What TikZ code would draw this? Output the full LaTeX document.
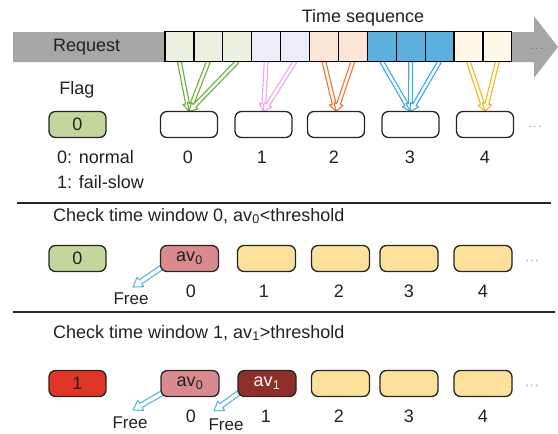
\documentclass[tikz,border=0pt]{standalone}
\usepackage{fontspec}
\setmainfont{Liberation Sans}
\usetikzlibrary{calc}
\definecolor{txt}{HTML}{222222}
\definecolor{grayarr}{HTML}{A6A6A6}
\definecolor{cg}{HTML}{EBF1DE}
\definecolor{cl}{HTML}{EEEDF7}
\definecolor{cp}{HTML}{FBE5D6}
\definecolor{cb}{HTML}{5BAFDD}
\definecolor{cy}{HTML}{FEF8E8}
\definecolor{ag}{HTML}{6AAE3A}
\definecolor{al}{HTML}{EBA6EC}
\definecolor{ao}{HTML}{EE7430}
\definecolor{ab}{HTML}{3FA9E0}
\definecolor{ay}{HTML}{F8B620}
\definecolor{afree}{HTML}{5BB5E5}
\definecolor{flaggreen}{HTML}{C3D69B}
\definecolor{flagred}{HTML}{E03524}
\definecolor{avpink}{HTML}{D98A8E}
\definecolor{avdark}{HTML}{8E2F2A}
\definecolor{peach}{HTML}{FCE09C}
\pgfdeclarelayer{back}
\pgfdeclarelayer{bg}
\pgfsetlayers{back,bg,main}
% hollow arrow: #1 start, #2 end, #3 colour, #4 shaft half width, #5 head half width, #6 head length
\newcommand\harrow[6]{%
  \coordinate (hS) at (#1);
  \coordinate (hE) at (#2);
  \coordinate (hH) at ($(hE)!#6!(hS)$);
  \draw[#3, line width=1.1pt, fill=white, line join=round]
    ($(hS)!#4!90:(hE)$) -- ($(hH)!#4!90:(hE)$) -- ($(hH)!#5!90:(hE)$) -- (hE)
    -- ($(hH)!#5!-90:(hE)$) -- ($(hH)!#4!-90:(hE)$) -- ($(hS)!#4!-90:(hE)$) -- cycle;
}
\tikzset{
  txtstyle/.style={text=txt, inner sep=0pt, font=\fontsize{18}{18}\selectfont},
  cell/.style={draw=black, line width=1.2pt, minimum width=28.9pt, minimum height=30pt, inner sep=0pt, outer sep=0pt},
  box/.style={draw=black!85, line width=1.3pt, rounded corners=6.5pt, minimum width=57pt, minimum height=26pt, inner sep=0pt, outer sep=0pt, text=txt, font=\fontsize{18}{18}\selectfont},
  dots/.style={text=black!70, inner sep=0pt, font=\fontsize{11}{11}\selectfont},
  sep/.style={line width=1.2pt, black!85},
}
\begin{document}
\begin{tikzpicture}[x=1pt, y=-1pt]
\begin{pgfonlayer}{back}
  \fill[white] (0,0) rectangle (558,434);
\end{pgfonlayer}
\useasboundingbox (0,0) rectangle (558,434);

% ---- top: request stream
\begin{pgfonlayer}{bg}
  \fill[grayarr] (13,32) -- (534,32) -- (534,16) -- (558,47) -- (534,78) -- (534,62) -- (13,62) -- cycle;
\end{pgfonlayer}
\node[txtstyle] (ts) at (363,18) {Time sequence};
\node[txtstyle, anchor=west] (req) at (53,47) {Request};
\node[dots] (d0) at (537,49) {$\cdots$};

\foreach \i/\col in {1/cg,2/cg,3/cg,4/cl,5/cl,6/cp,7/cp,8/cb,9/cb,10/cb,11/cy,12/cy}{
  \pgfmathsetmacro\cx{165+28.9*(\i-0.5)}
  \node[cell, fill=\col] (c\i) at (\cx,46.7) {};
}

% ---- row 1
\node[txtstyle] (flag) at (77,90) {Flag};
\node[box, fill=flaggreen] (f1) at (77.5,124.5) {0};
\foreach \n/\x in {0/189,1/263.5,2/336,3/410.5,4/485}{
  \node[box, fill=white] (w\n) at (\x,124.5) {};
}
\foreach \n/\x in {0/188,1/262,2/334,3/410,4/485}{
  \node[txtstyle] (l1\n) at (\x,157) {\n};
}
\node[dots] (d1) at (535,127) {$\cdots$};
\node[txtstyle, anchor=west] (leg0) at (57,157) {0: normal};
\node[txtstyle, anchor=west] (leg1) at (57,182) {1: fail-slow};

\begin{pgfonlayer}{bg}
  \harrow{c1.south}{w0.north}{ag}{1.9pt}{4.6pt}{8pt}
  \harrow{c2.south}{w0.north}{ag}{1.9pt}{4.6pt}{8pt}
  \harrow{c3.south}{w0.north}{ag}{1.9pt}{4.6pt}{8pt}
  \harrow{c4.south}{w1.north}{al}{1.9pt}{4.6pt}{8pt}
  \harrow{c5.south}{w1.north}{al}{1.9pt}{4.6pt}{8pt}
  \harrow{c6.south}{w2.north}{ao}{1.9pt}{4.6pt}{8pt}
  \harrow{c7.south}{w2.north}{ao}{1.9pt}{4.6pt}{8pt}
  \harrow{c8.south}{w3.north}{ab}{1.9pt}{4.6pt}{8pt}
  \harrow{c9.south}{w3.north}{ab}{1.9pt}{4.6pt}{8pt}
  \harrow{c10.south}{w3.north}{ab}{1.9pt}{4.6pt}{8pt}
  \harrow{c11.south}{w4.north}{ay}{1.9pt}{4.6pt}{8pt}
  \harrow{c12.south}{w4.north}{ay}{1.9pt}{4.6pt}{8pt}
\end{pgfonlayer}

\coordinate (s1a) at (17,203);
\coordinate (s1b) at (551,203);
\draw[sep] (s1a) -- (s1b);

% ---- row 2
\node[txtstyle, anchor=west] (t2) at (53,216) {Check time window 0, av\textsubscript{0}<threshold};
\node[box, fill=flaggreen] (f2) at (77.5,258.5) {0};
\node[box, fill=avpink, minimum width=58pt] (r2a0) at (189.5,258.5) {av\textsubscript{0}};
\foreach \n/\x in {1/266.5,2/340.5,3/409,4/483}{
  \node[box, fill=peach, minimum width=58pt] (r2b\n) at (\x,258.5) {};
}
\foreach \n/\x in {0/191,1/264,2/339,3/409,4/483}{
  \node[txtstyle] (l2\n) at (\x,291) {\n};
}
\node[dots] (d2) at (532,261) {$\cdots$};
\coordinate (fr1) at (133,287);
\begin{pgfonlayer}{bg}
  \harrow{$(r2a0.south west)+(4,-6)$}{fr1}{afree}{2.4pt}{5.8pt}{9pt}
\end{pgfonlayer}
\node[txtstyle, font=\fontsize{17}{17}\selectfont] (free1) at (131,299) {Free};

\coordinate (s2a) at (13,312);
\coordinate (s2b) at (555,312);
\draw[sep] (s2a) -- (s2b);

% ---- row 3
\node[txtstyle, anchor=west] (t3) at (53,333) {Check time window 1, av\textsubscript{1}>threshold};
\node[box, fill=flagred] (f3) at (77.5,383.5) {1};
\node[box, fill=avpink, minimum width=58pt] (r3a0) at (190,383.5) {av\textsubscript{0}};
\node[box, fill=avdark, minimum width=58pt, text=white!92!pink] (r3a1) at (267,383.5) {av\textsubscript{1}};
\foreach \n/\x in {2/340.5,3/409,4/483}{
  \node[box, fill=peach, minimum width=58pt] (r3b\n) at (\x,383.5) {};
}
\foreach \n/\x in {0/191,1/266,2/339,3/409,4/483}{
  \node[txtstyle] (l3\n) at (\x,416) {\n};
}
\node[dots] (d3) at (532,386) {$\cdots$};
\coordinate (fr2) at (133,410);
\coordinate (fr3) at (214,411);
\begin{pgfonlayer}{bg}
  \harrow{$(r3a0.south west)+(4,-5)$}{fr2}{afree}{2.4pt}{5.8pt}{9pt}
  \harrow{$(r3a1.south west)+(4,-6)$}{fr3}{afree}{2.4pt}{5.8pt}{9pt}
\end{pgfonlayer}
\node[txtstyle, font=\fontsize{17}{17}\selectfont] (free2) at (130,423) {Free};
\node[txtstyle, font=\fontsize{17}{17}\selectfont] (free3) at (226,425) {Free};
\end{tikzpicture}
\end{document}
